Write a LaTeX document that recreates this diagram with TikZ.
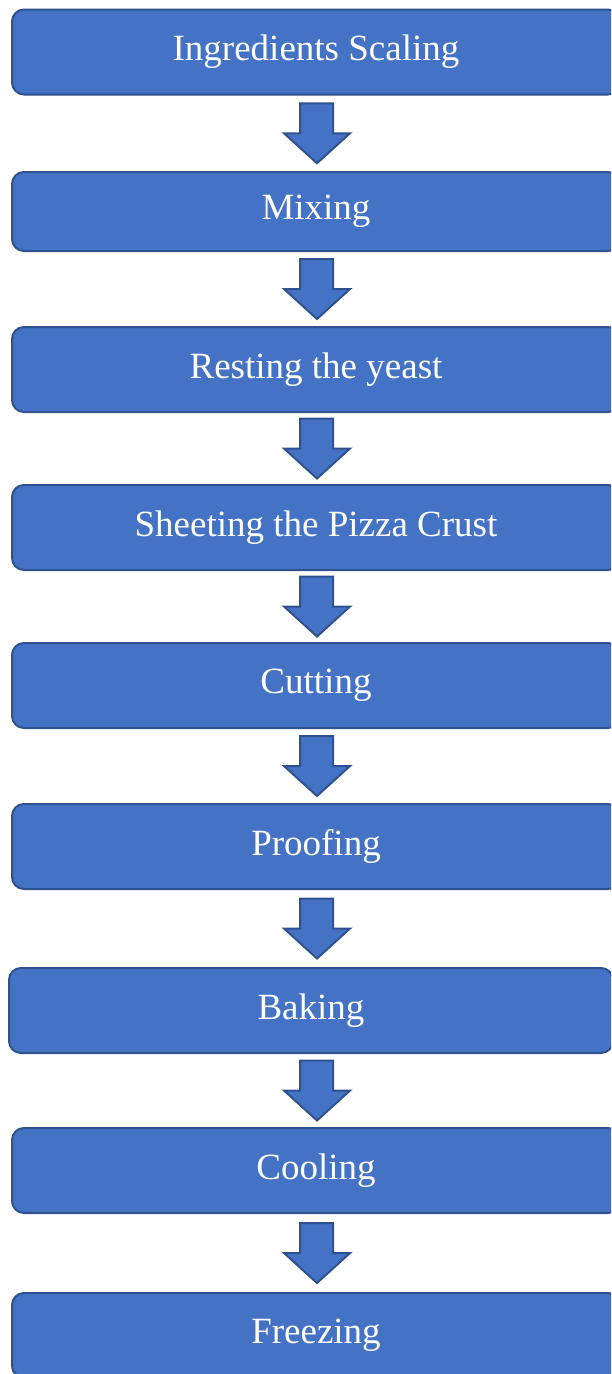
\documentclass[tikz,border=0pt]{standalone}
\usepackage{fontspec}
\setmainfont{Liberation Serif}
\usetikzlibrary{calc}
\definecolor{stepblue}{HTML}{4472C4}
\definecolor{stepedge}{HTML}{2F528F}
\tikzset{
  stepbox/.style={draw=stepedge, fill=stepblue, line width=2pt, rounded corners=12pt,
    minimum width=608pt, minimum height=85pt, text=white, inner sep=0pt,
    font=\fontsize{37}{44}\selectfont},
  blockarrow/.style={draw=stepedge, fill=stepblue, line width=2pt, line join=miter}
}
\begin{document}
\begin{tikzpicture}[x=1pt, y=-1pt]
 \useasboundingbox (0,0) rectangle (611,1374);
 \clip (0,0) rectangle (611,1374);

 \node[stepbox] (scale) at (316, 52)    {Ingredients Scaling};
 \node[stepbox, minimum height=79pt] (mix) at (316, 211.5) {Mixing};
 \node[stepbox] (rest)  at (316, 369.5)  {Resting the yeast};
 \node[stepbox] (sheet) at (316, 527.5)  {Sheeting the Pizza Crust};
 \node[stepbox] (cut)   at (316, 685.5)  {Cutting};
 \node[stepbox] (proof) at (316, 846.5)  {Proofing};
 \node[stepbox, minimum width=604pt] (bake) at (311, 1010.5) {Baking};
 \node[stepbox] (cool)  at (316, 1170.5) {Cooling};
 \node[stepbox] (freeze) at (316, 1335.5) {Freezing};

 % block arrows between the steps
 \foreach \a/\b in {scale/mix, mix/rest, rest/sheet, sheet/cut, cut/proof,
                    proof/bake, bake/cool, cool/freeze} {
   \path ($(\a.south)!0.5!(\b.north)$) coordinate (m);
   \path (scale.south |- m) coordinate (m);
   \draw[blockarrow, shift={(m)}] (-16,-30) -- (17,-30) -- (17,0) -- (34,0)
        -- (1,30) -- (-32,0) -- (-16,0) -- cycle;
 }
\end{tikzpicture}
\end{document}
